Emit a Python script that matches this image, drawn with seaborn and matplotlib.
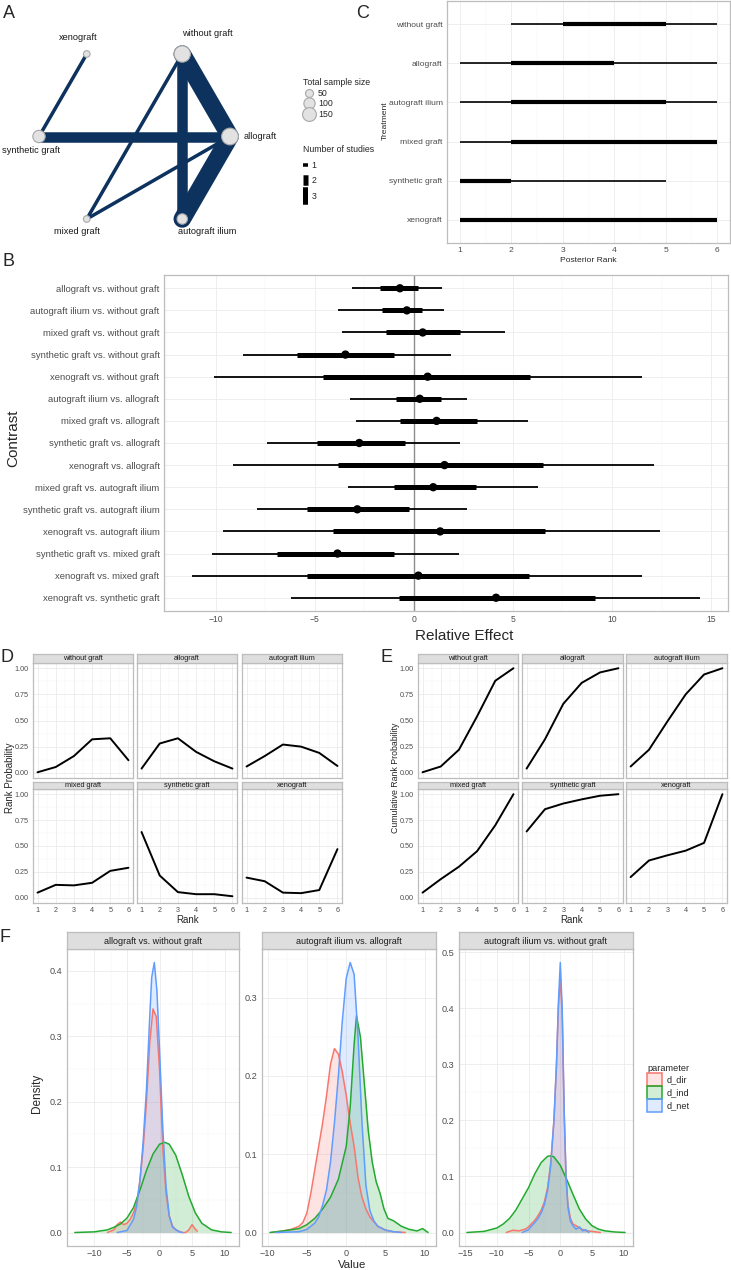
import numpy as np
import pandas as pd
import matplotlib
matplotlib.use('Agg')
import matplotlib.pyplot as plt
import seaborn as sns
from matplotlib.lines import Line2D
from matplotlib.patches import Patch
from matplotlib.ticker import FixedLocator
from matplotlib.colors import to_rgba

W, H = 731, 1270

# ---------------- data ----------------
treatments = ['without graft', 'allograft', 'autograft ilium',
              'mixed graft', 'synthetic graft', 'xenograft']

# A: network
net_x = [0.75, 1.0, 0.75, 0.25, 0.0, 0.25]
net_y = [1.0, 0.5, 0.0, 0.0, 0.5, 1.0]
sample_size = [210, 220, 85, 35, 120, 35]
edge_from = ['xenograft', 'synthetic graft', 'without graft', 'without graft',
             'allograft', 'without graft', 'allograft']
edge_to = ['synthetic graft', 'allograft', 'allograft', 'autograft ilium',
           'autograft ilium', 'mixed graft', 'mixed graft']
edge_studies = [1, 2, 3, 2, 3, 1, 1]
size_keys = [50, 100, 150]
study_keys = [1, 2, 3]

# C: posterior rank intervals
rank_lo95 = [2, 1, 1, 1, 1, 1]
rank_lo50 = [3, 2, 2, 2, 1, 1]
rank_hi50 = [5, 4, 5, 6, 2, 6]
rank_hi95 = [6, 6, 6, 6, 5, 6]

# B: relative effects
contrasts = ['allograft vs. without graft', 'autograft ilium vs. without graft',
             'mixed graft vs. without graft', 'synthetic graft vs. without graft',
             'xenograft vs. without graft', 'autograft ilium vs. allograft',
             'mixed graft vs. allograft', 'synthetic graft vs. allograft',
             'xenograft vs. allograft', 'mixed graft vs. autograft ilium',
             'synthetic graft vs. autograft ilium', 'xenograft vs. autograft ilium',
             'synthetic graft vs. mixed graft', 'xenograft vs. mixed graft',
             'xenograft vs. synthetic graft']
eff_lo95 = [-3.1, -3.8, -3.6, -8.6, -10.1, -3.2, -2.9, -7.4, -9.1, -3.3, -7.9, -9.6, -10.2, -11.2, -6.2]
eff_lo50 = [-1.7, -1.6, -1.4, -5.9, -4.6, -0.9, -0.7, -4.9, -3.8, -1.0, -5.4, -4.1, -6.9, -5.4, -0.75]
eff_med = [-0.7, -0.35, 0.45, -3.45, 0.7, 0.3, 1.15, -2.75, 1.55, 0.98, -2.85, 1.33, -3.85, 0.23, 4.15]
eff_hi50 = [0.2, 0.4, 2.35, -1.0, 5.85, 1.35, 3.2, -0.45, 6.5, 3.15, -0.25, 6.6, -1.0, 5.8, 9.15]
eff_hi95 = [1.4, 1.5, 4.6, 1.9, 11.5, 2.7, 5.75, 2.35, 12.1, 6.25, 2.7, 12.4, 2.3, 11.5, 14.45]

# D / E: rank probabilities
ranks = [1, 2, 3, 4, 5, 6]
prob_without = [0.005, 0.055, 0.16, 0.32, 0.33, 0.12]
prob_allo = [0.04, 0.28, 0.33, 0.20, 0.11, 0.04]
prob_auto = [0.06, 0.16, 0.27, 0.25, 0.19, 0.065]
prob_mixed = [0.05, 0.125, 0.12, 0.145, 0.26, 0.29]
prob_synth = [0.635, 0.215, 0.055, 0.035, 0.035, 0.015]
prob_xeno = [0.195, 0.16, 0.05, 0.045, 0.075, 0.47]
cum_without = [0.005, 0.06, 0.22, 0.54, 0.88, 1.0]
cum_allo = [0.04, 0.32, 0.66, 0.86, 0.96, 1.0]
cum_auto = [0.06, 0.22, 0.49, 0.75, 0.94, 1.0]
cum_mixed = [0.05, 0.18, 0.30, 0.45, 0.70, 1.0]
cum_synth = [0.64, 0.855, 0.91, 0.95, 0.985, 1.0]
cum_xeno = [0.20, 0.36, 0.41, 0.455, 0.53, 1.0]

# F: node-splitting posterior densities
f_titles = ['allograft vs. without graft', 'autograft ilium vs. allograft',
            'autograft ilium vs. without graft']
params = ['d_dir', 'd_ind', 'd_net']

f1_dir_x = [-8, -7, -6.5, -6, -5.5, -5, -4.5, -4, -3.5, -3, -2.5, -2, -1.5, -1, -0.5, 0, 0.5, 1, 1.5, 2, 2.5, 3, 3.5, 4, 4.5, 5, 5.5, 5.8]
f1_dir_y = [0.0, 0.004, 0.012, 0.016, 0.012, 0.014, 0.02, 0.03, 0.045, 0.08, 0.13, 0.2, 0.29, 0.342, 0.33, 0.25, 0.13, 0.06, 0.025, 0.01, 0.004, 0.002, 0.0, 0.0, 0.004, 0.012, 0.005, 0.002]
f1_ind_x = [-13, -10, -8, -7, -6, -5, -4, -3, -2, -1, 0, 0.8, 1.5, 2.5, 3.5, 4.5, 5.5, 6.5, 8, 9.5, 11]
f1_ind_y = [0.0, 0.001, 0.004, 0.008, 0.013, 0.022, 0.038, 0.065, 0.095, 0.12, 0.135, 0.138, 0.135, 0.118, 0.088, 0.055, 0.03, 0.014, 0.004, 0.001, 0.0]
f1_net_x = [-6.5, -5, -4, -3.5, -3, -2.5, -2, -1.5, -1.2, -0.8, -0.4, 0, 0.5, 1, 1.5, 2, 3, 3.5]
f1_net_y = [0.0, 0.003, 0.02, 0.04, 0.08, 0.14, 0.22, 0.33, 0.39, 0.413, 0.37, 0.28, 0.16, 0.07, 0.025, 0.008, 0.001, 0.0]

f2_dir_x = [-9.5, -8, -7, -6, -5.5, -5, -4.5, -4, -3.5, -3, -2.5, -2, -1.5, -1, -0.5, 0, 0.5, 1, 1.5, 2, 2.5, 3, 4, 5, 6, 7.5]
f2_dir_y = [0.0, 0.002, 0.004, 0.008, 0.013, 0.025, 0.05, 0.08, 0.11, 0.14, 0.175, 0.215, 0.235, 0.228, 0.205, 0.175, 0.14, 0.11, 0.07, 0.045, 0.03, 0.02, 0.008, 0.003, 0.001, 0.0]
f2_ind_x = [-9.7, -8, -6, -5, -4, -3, -2, -1, 0, 0.5, 1, 1.3, 1.8, 2.3, 2.8, 3.3, 3.8, 4.3, 4.8, 5.3, 6, 7, 8, 9, 9.7, 10.4]
f2_ind_y = [0.0, 0.002, 0.005, 0.01, 0.018, 0.03, 0.045, 0.068, 0.11, 0.16, 0.24, 0.277, 0.25, 0.19, 0.13, 0.09, 0.065, 0.05, 0.03, 0.018, 0.015, 0.008, 0.004, 0.002, 0.005, 0.0]
f2_net_x = [-9, -6, -5, -4, -3.5, -3, -2.5, -2, -1.5, -1, -0.5, 0, 0.5, 1, 1.5, 2, 2.5, 3, 3.5, 4, 5, 6, 7]
f2_net_y = [0.0, 0.001, 0.004, 0.012, 0.02, 0.035, 0.055, 0.09, 0.14, 0.2, 0.27, 0.325, 0.345, 0.33, 0.25, 0.14, 0.06, 0.028, 0.015, 0.008, 0.003, 0.001, 0.0]

f3_dir_x = [-8.5, -7.5, -6.5, -5.5, -5, -4.5, -4, -3.5, -3, -2.5, -2, -1.5, -1, -0.6, -0.3, 0, 0.3, 0.6, 0.9, 1.2, 1.6, 2, 2.5, 3, 4, 5, 6.3]
f3_dir_y = [0.0, 0.004, 0.003, 0.006, 0.01, 0.016, 0.022, 0.03, 0.04, 0.055, 0.08, 0.125, 0.2, 0.3, 0.4, 0.455, 0.39, 0.22, 0.1, 0.05, 0.025, 0.015, 0.012, 0.008, 0.003, 0.002, 0.0]
f3_ind_x = [-14.7, -12, -10, -9, -8, -7, -6, -5, -4, -3, -2, -1.5, -1, 0, 1, 2, 3, 4, 5, 6, 7, 8.5, 10.2]
f3_ind_y = [0.0, 0.002, 0.008, 0.015, 0.025, 0.04, 0.06, 0.08, 0.105, 0.125, 0.136, 0.137, 0.135, 0.12, 0.095, 0.068, 0.042, 0.024, 0.012, 0.006, 0.003, 0.001, 0.0]
f3_net_x = [-6, -5, -4.5, -4, -3.5, -3, -2.5, -2, -1.5, -1, -0.6, -0.3, 0, 0.3, 0.6, 0.9, 1.2, 1.6, 2, 2.5, 3, 3.5, 4, 4.5]
f3_net_y = [0.0, 0.005, 0.012, 0.018, 0.025, 0.035, 0.05, 0.075, 0.12, 0.2, 0.3, 0.41, 0.482, 0.4, 0.22, 0.1, 0.045, 0.02, 0.012, 0.006, 0.01, 0.003, 0.005, 0.0]

# ---------------- style ----------------
sns.set_style('whitegrid')
plt.rcParams['font.family'] = ['Liberation Sans', 'DejaVu Sans']
plt.rcParams['axes.unicode_minus'] = True

NAVY = '#0D325E'
BORDER = '#BDBDBD'
TXT = '#4D4D4D'
PAL = {'d_dir': '#F8766D', 'd_ind': '#22A92F', 'd_net': '#619CFF'}


def rect(l, t, r, b):
    return [l / W, 1 - b / H, (r - l) / W, (b - t) / H]


def gg_style(ax, fs):
    ax.set_facecolor('white')
    for sp in ax.spines.values():
        sp.set_visible(True)
        sp.set_color(BORDER)
        sp.set_linewidth(0.9)
    ax.grid(True, which='major', color='#EBEBEB', linewidth=0.6)
    ax.grid(True, which='minor', color='#F5F5F5', linewidth=0.35)
    ax.set_axisbelow(True)
    ax.tick_params(which='major', length=2, width=0.5, color='#555555',
                   labelcolor=TXT, labelsize=fs, pad=1.2)
    ax.tick_params(which='minor', length=0)


def facet(l, t, r, b, strip_t, title, fs):
    ax = fig.add_axes(rect(l, t, r, b))
    st = fig.add_axes(rect(l, strip_t, r, t))
    st.set_facecolor('#DEDEDE')
    st.set_xticks([])
    st.set_yticks([])
    st.grid(False)
    for sp in st.spines.values():
        sp.set_color(BORDER)
        sp.set_linewidth(0.9)
    st.text(0.5, 0.45, title, ha='center', va='center', fontsize=fs, color='#1A1A1A',
            transform=st.transAxes)
    return ax


def edge_lw(n):
    return (3.5 + 7 * (n - 1)) * 0.72


fig = plt.figure(figsize=(W / 100, H / 100), dpi=100)

# ---------------- A: network ----------------
axA = fig.add_axes(rect(0, 0, 300, 245))
axA.axis('off')
axA.set_xlim(-39 / 191, 261 / 191)
axA.set_ylim(-26 / 165, 219 / 165)
pos = {t: (x, y) for t, x, y in zip(treatments, net_x, net_y)}
for a, b, n in zip(edge_from, edge_to, edge_studies):
    (x1, y1), (x2, y2) = pos[a], pos[b]
    axA.plot([x1, x2], [y1, y2], color=NAVY, lw=edge_lw(n), solid_capstyle='round', zorder=1)
nodes = pd.DataFrame({'node': treatments, 'x': net_x, 'y': net_y, 'n': sample_size})
axA.scatter(nodes['x'], nodes['y'], s=nodes['n'] * 0.66, c='#E2E2E2',
            edgecolors='#A8A8A8', linewidths=0.8, zorder=3)
label_off = {'xenograft': (-9, -16, 'center'), 'without graft': (25, -20, 'center'),
             'synthetic graft': (-8, 14, 'center'), 'allograft': (14, 0, 'left'),
             'mixed graft': (-10, 12, 'center'), 'autograft ilium': (25, 13, 'center')}
for t in treatments:
    dx, dy, ha = label_off[t]
    axA.annotate(t, xy=pos[t], xytext=(dx * 0.72, -dy * 0.72), textcoords='offset points',
                 ha=ha, va='center', fontsize=6.7, color='#1A1A1A')

h1 = [Line2D([], [], ls='', marker='o', markersize=np.sqrt(n * 0.66), markerfacecolor='#E2E2E2',
             markeredgecolor='#A8A8A8', markeredgewidth=0.8, label=str(n)) for n in size_keys]
leg1 = axA.legend(handles=h1, title='Total sample size', loc='upper left',
                  bbox_to_anchor=(303 / W, 1 - 78 / H), bbox_transform=fig.transFigure,
                  frameon=False, fontsize=6.3, title_fontsize=6.3, handletextpad=0.4,
                  labelspacing=0.2, borderpad=0, borderaxespad=0, handlelength=1.3, alignment='left')
axA.add_artist(leg1)
h2 = [Line2D([], [], color='black', lw=edge_lw(n), solid_capstyle='butt', label=str(n))
      for n in study_keys]
axA.legend(handles=h2, title='Number of studies', loc='upper left',
           bbox_to_anchor=(303 / W, 1 - 145 / H), bbox_transform=fig.transFigure,
           frameon=False, fontsize=6.3, title_fontsize=6.3, handletextpad=0.4,
           labelspacing=0.75, borderpad=0, borderaxespad=0, handlelength=0.6, alignment='left')

# ---------------- C: posterior ranks ----------------
axC = fig.add_axes(rect(447, 1, 730, 243))
gg_style(axC, 6.1)
yc = np.arange(len(treatments))
axC.hlines(yc, rank_lo95, rank_hi95, color='black', lw=1.2)
axC.hlines(yc, rank_lo50, rank_hi50, color='black', lw=3.0)
axC.set_ylim(len(treatments) - 0.4, -0.6)
axC.set_yticks(yc, treatments)
axC.set_xlim(0.75, 6.25)
axC.set_xticks(ranks)
axC.xaxis.set_minor_locator(FixedLocator(np.arange(1.5, 6, 1)))
axC.set_xlabel('')
axC.set_ylabel('')
fig.text(588 / W, 1 - 260 / H, 'Posterior Rank', ha='center', va='center', fontsize=6.1)
fig.text(385 / W, 1 - 121 / H, 'Treatment', ha='center', va='center', rotation=90, fontsize=6.1)

# ---------------- B: relative effects ----------------
axB = fig.add_axes(rect(164, 275, 728, 611))
gg_style(axB, 6.2)
yb = np.arange(len(contrasts))
axB.axvline(0, color='#8C8C8C', lw=1.0, zorder=1)
axB.hlines(yb, eff_lo95, eff_hi95, color='black', lw=1.3, zorder=2)
axB.hlines(yb, eff_lo50, eff_hi50, color='black', lw=3.6, zorder=2)
sns.scatterplot(x=eff_med, y=yb, color='black', s=36, edgecolor='none', zorder=3, ax=axB)
axB.set_ylim(len(contrasts) - 0.4, -0.6)
axB.set_yticks(yb, contrasts)
axB.tick_params(axis='y', labelsize=6.8)
axB.set_xlim(-12.6, 15.85)
axB.set_xticks([-10, -5, 0, 5, 10, 15])
axB.xaxis.set_minor_locator(FixedLocator(np.arange(-12.5, 16, 5)))
fig.text(464 / W, 1 - 636 / H, 'Relative Effect', ha='center', va='center', fontsize=11)
fig.text(13 / W, 1 - 438 / H, 'Contrast', ha='center', va='center', rotation=90, fontsize=11)

# ---------------- D / E: rank probabilities ----------------
prob_lists = [prob_without, prob_allo, prob_auto, prob_mixed, prob_synth, prob_xeno]
cum_lists = [cum_without, cum_allo, cum_auto, cum_mixed, cum_synth, cum_xeno]
rank_df = pd.DataFrame({'treatment': np.repeat(treatments, len(ranks)),
                        'rank': np.tile(ranks, len(treatments)),
                        'prob': np.concatenate(prob_lists),
                        'cum': np.concatenate(cum_lists)})

rows = [(654, 663, 778), (782, 789, 903)]
for cols, col_name in [([(33, 133), (137, 237), (242, 342)], 'prob'),
                       ([(418, 518), (522, 623), (626, 727)], 'cum')]:
    for i, t in enumerate(treatments):
        r, c = divmod(i, 3)
        l, rr = cols[c]
        st_t, p_t, p_b = rows[r]
        ax = facet(l, p_t, rr, p_b, st_t, t, 5.3)
        gg_style(ax, 5.2)
        sns.lineplot(data=rank_df[rank_df['treatment'] == t], x='rank', y=col_name,
                     color='black', lw=1.4, ax=ax)
        ax.set_xlim(0.75, 6.25)
        ax.set_ylim(-0.05, 1.05)
        ax.set_xticks(ranks)
        ax.set_yticks([0, 0.25, 0.5, 0.75, 1.0], ['0.00', '0.25', '0.50', '0.75', '1.00'])
        ax.xaxis.set_minor_locator(FixedLocator(np.arange(1.5, 6, 1)))
        ax.yaxis.set_minor_locator(FixedLocator([0.125, 0.375, 0.625, 0.875]))
        ax.set_xlabel('')
        ax.set_ylabel('')
        if r == 0:
            ax.tick_params(axis='x', labelbottom=False, length=0)
        if c > 0:
            ax.tick_params(axis='y', labelleft=False, length=0)

fig.text(10 / W, 1 - 778 / H, 'Rank Probability', ha='center', va='center', rotation=90, fontsize=7)
fig.text(188 / W, 1 - 920 / H, 'Rank', ha='center', va='center', fontsize=7)
fig.text(395 / W, 1 - 778 / H, 'Cumulative Rank Probability', ha='center', va='center',
         rotation=90, fontsize=6.3)
fig.text(572 / W, 1 - 920 / H, 'Rank', ha='center', va='center', fontsize=7)

# ---------------- F: densities ----------------
f_curves = [
    [(f1_dir_x, f1_dir_y), (f1_ind_x, f1_ind_y), (f1_net_x, f1_net_y)],
    [(f2_dir_x, f2_dir_y), (f2_ind_x, f2_ind_y), (f2_net_x, f2_net_y)],
    [(f3_dir_x, f3_dir_y), (f3_ind_x, f3_ind_y), (f3_net_x, f3_net_y)],
]
f_cols = [(67, 239), (262, 436), (459, 633)]
f_yticks = [np.arange(0, 0.45, 0.1), np.arange(0, 0.35, 0.1), np.arange(0, 0.55, 0.1)]
f_xticks = [[-10, -5, 0, 5, 10], [-10, -5, 0, 5, 10], [-15, -10, -5, 0, 5, 10]]
for k, (title, curves) in enumerate(zip(f_titles, f_curves)):
    l, r = f_cols[k]
    ax = facet(l, 949, r, 1246, 932, title, 6.5)
    gg_style(ax, 6.6)
    ax.tick_params(axis='x', pad=0.6, length=1.6)
    for p, (xs, ys) in zip(params, curves):
        ax.fill_between(xs, ys, color=PAL[p], alpha=0.2, lw=0)
        sns.lineplot(x=xs, y=ys, color=PAL[p], lw=1.1, sort=False, ax=ax)
    xmin = min(min(xs) for xs, _ in curves)
    xmax = max(max(xs) for xs, _ in curves)
    ymax = max(max(ys) for _, ys in curves)
    ax.set_xlim(xmin - 0.05 * (xmax - xmin), xmax + 0.05 * (xmax - xmin))
    ax.set_ylim(-0.05 * ymax, 1.05 * ymax)
    ax.set_xticks(f_xticks[k])
    ax.xaxis.set_minor_locator(FixedLocator(np.array(f_xticks[k][:-1]) + 2.5))
    ax.set_yticks(f_yticks[k], [f'{v:.1f}' for v in f_yticks[k]])
    ax.yaxis.set_minor_locator(FixedLocator(f_yticks[k] + 0.05))
    ax.set_xlabel('')
    ax.set_ylabel('')

fig.text(37 / W, 1 - 1093 / H, 'Density', ha='center', va='center', rotation=90, fontsize=8.5)
fig.text(352 / W, 1 - 1265 / H, 'Value', ha='center', va='center', fontsize=8.2)
hf = [Patch(facecolor=to_rgba(PAL[p], 0.2), edgecolor=PAL[p], lw=1.1, label=p) for p in params]
fig.legend(handles=hf, title='parameter', loc='upper left', bbox_to_anchor=(647 / W, 1 - 1064 / H),
           frameon=False, fontsize=6.6, title_fontsize=6.6, handlelength=1.6, handleheight=1.7,
           labelspacing=0.05, handletextpad=0.5, borderpad=0, borderaxespad=0, alignment='left')

# ---------------- panel letters ----------------
for letter, x, y in [('A', 9, 14), ('C', 363, 14), ('B', 8, 261), ('D', 7, 658),
                     ('E', 387, 658), ('F', 5, 937)]:
    fig.text(x / W, 1 - y / H, letter, ha='center', va='center', fontsize=13)

fig.savefig('out.png', dpi=100)
